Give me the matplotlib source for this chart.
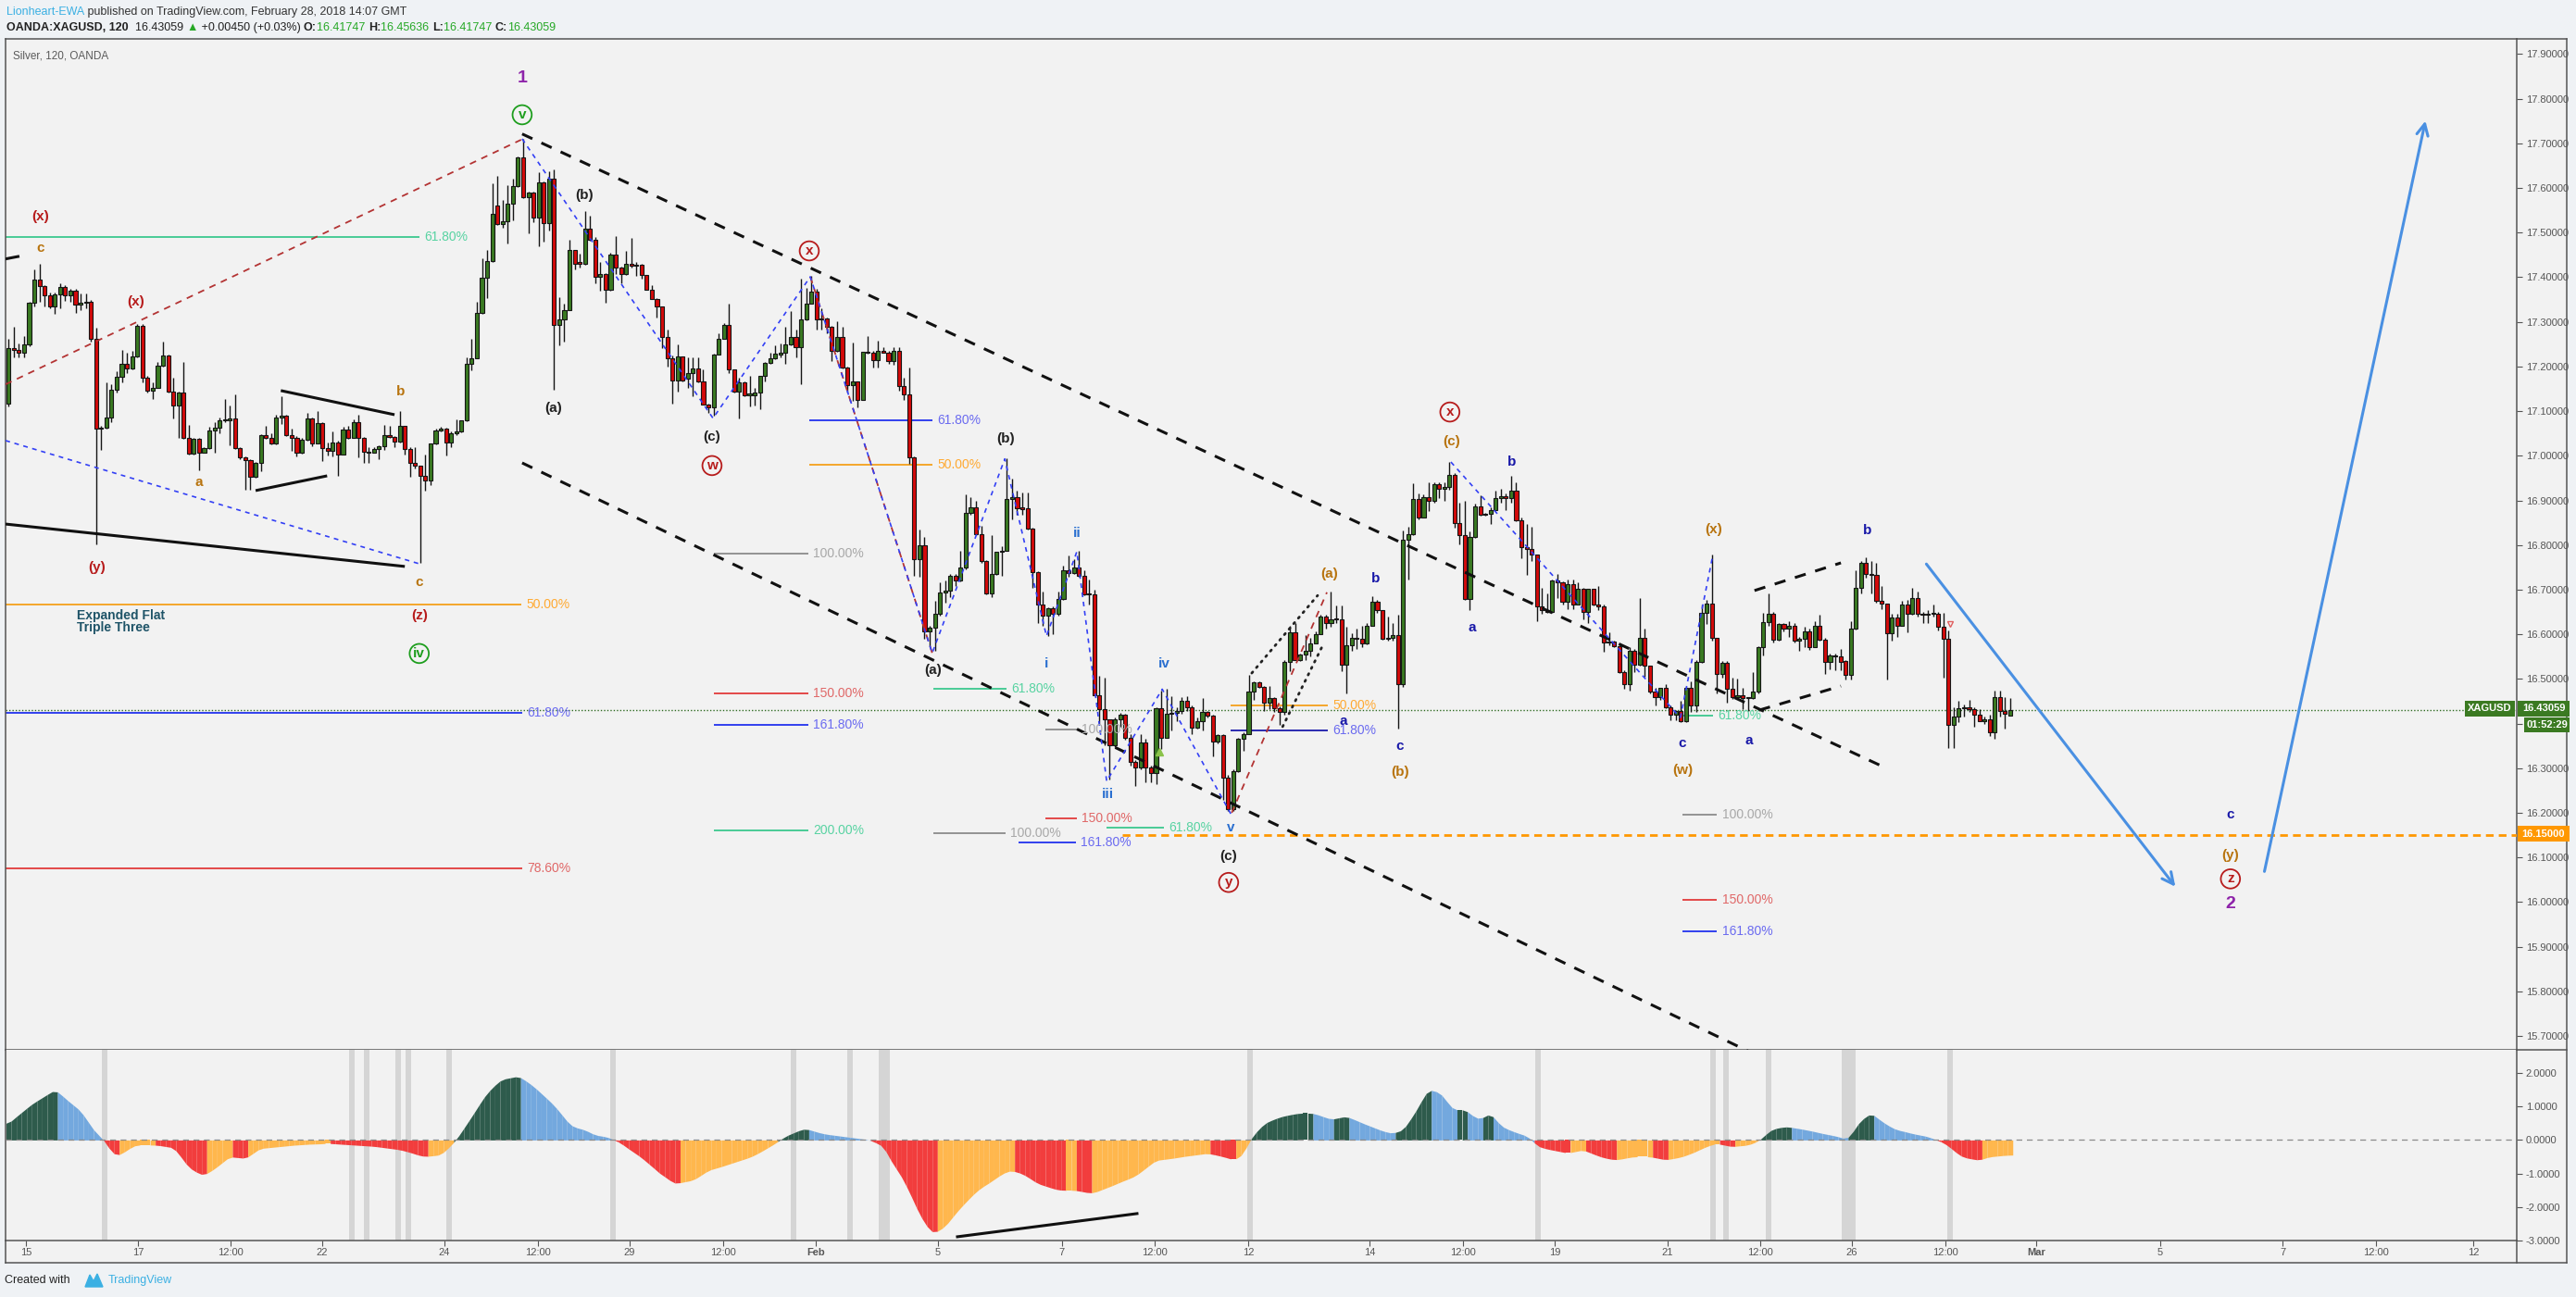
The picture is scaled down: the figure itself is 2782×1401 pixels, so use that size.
import numpy as np
import matplotlib
matplotlib.use("Agg")
import matplotlib.pyplot as plt
from matplotlib.patches import Rectangle, Polygon
from matplotlib.lines import Line2D

plt.rcParams['font.family'] = ['Liberation Sans', 'DejaVu Sans']

# ---------------- data (2h candles, OANDA XAGUSD) ----------------
opens = [17.117, 17.241, 17.237, 17.231, 17.249, 17.343, 17.395, 17.381, 17.360, 17.335,
         17.362, 17.378, 17.360, 17.369, 17.339, 17.343, 17.345, 17.262, 17.060, 17.063,
         17.085, 17.148, 17.177, 17.206, 17.196, 17.222, 17.291, 17.175, 17.146, 17.152,
         17.202, 17.225, 17.144, 17.113, 17.141, 17.041, 17.004, 17.037, 17.007, 17.018,
         17.057, 17.063, 17.080, 17.079, 17.083, 17.018, 16.996, 16.991, 16.952, 16.983,
         17.047, 17.041, 17.028, 17.085, 17.089, 17.046, 17.041, 17.006, 17.035, 17.084,
         17.028, 17.074, 17.018, 17.012, 17.030, 17.003, 17.058, 17.041, 17.075, 17.041,
         17.009, 17.007, 17.016, 17.022, 17.046, 17.042, 17.032, 17.067, 17.016, 16.985,
         16.977, 16.954, 16.944, 17.027, 17.056, 17.061, 17.030, 17.050, 17.054, 17.079,
         17.206, 17.219, 17.320, 17.399, 17.437, 17.561, 17.519, 17.525, 17.564, 17.604,
         17.669, 17.580, 17.590, 17.533, 17.613, 17.521, 17.621, 17.293, 17.305, 17.327,
         17.461, 17.434, 17.430, 17.509, 17.483, 17.400, 17.407, 17.372, 17.450, 17.422,
         17.407, 17.430, 17.425, 17.428, 17.405, 17.372, 17.352, 17.334, 17.267, 17.218,
         17.168, 17.222, 17.172, 17.186, 17.195, 17.167, 17.115, 17.108, 17.227, 17.263,
         17.294, 17.193, 17.144, 17.165, 17.136, 17.135, 17.141, 17.179, 17.208, 17.218,
         17.227, 17.231, 17.250, 17.267, 17.243, 17.305, 17.341, 17.367, 17.308, 17.308,
         17.289, 17.235, 17.267, 17.198, 17.158, 17.166, 17.126, 17.232, 17.230, 17.215,
         17.235, 17.231, 17.213, 17.235, 17.157, 17.138, 16.997, 16.769, 16.800, 16.607,
         16.614, 16.646, 16.694, 16.697, 16.731, 16.720, 16.749, 16.872, 16.884, 16.825,
         16.765, 16.691, 16.735, 16.784, 16.787, 16.903, 16.907, 16.884, 16.882, 16.837,
         16.740, 16.667, 16.642, 16.659, 16.646, 16.679, 16.744, 16.737, 16.749, 16.732,
         16.690, 16.690, 16.464, 16.432, 16.409, 16.351, 16.409, 16.419, 16.368, 16.314,
         16.302, 16.358, 16.301, 16.290, 16.435, 16.369, 16.421, 16.423, 16.429, 16.452,
         16.437, 16.390, 16.405, 16.427, 16.417, 16.360, 16.374, 16.279, 16.208, 16.294,
         16.365, 16.377, 16.471, 16.493, 16.483, 16.446, 16.458, 16.434, 16.427, 16.538,
         16.605, 16.543, 16.555, 16.562, 16.580, 16.601, 16.640, 16.625, 16.634, 16.633,
         16.531, 16.576, 16.593, 16.589, 16.580, 16.619, 16.673, 16.654, 16.590, 16.591,
         16.598, 16.489, 16.812, 16.825, 16.904, 16.862, 16.908, 16.898, 16.937, 16.925,
         16.930, 16.957, 16.850, 16.823, 16.680, 16.819, 16.887, 16.868, 16.870, 16.879,
         16.906, 16.908, 16.906, 16.921, 16.856, 16.795, 16.792, 16.778, 16.663, 16.654,
         16.650, 16.721, 16.717, 16.673, 16.713, 16.667, 16.702, 16.651, 16.701, 16.667,
         16.663, 16.582, 16.584, 16.574, 16.515, 16.489, 16.562, 16.531, 16.593, 16.529,
         16.471, 16.460, 16.480, 16.436, 16.419, 16.429, 16.405, 16.481, 16.440, 16.538,
         16.648, 16.669, 16.591, 16.512, 16.536, 16.477, 16.460, 16.464, 16.457, 16.457,
         16.471, 16.572, 16.627, 16.645, 16.588, 16.624, 16.612, 16.620, 16.586, 16.589,
         16.607, 16.572, 16.619, 16.588, 16.538, 16.553, 16.551, 16.540, 16.509, 16.612,
         16.705, 16.759, 16.735, 16.733, 16.676, 16.669, 16.603, 16.638, 16.619, 16.667,
         16.645, 16.681, 16.645, 16.643, 16.645, 16.646, 16.616, 16.589, 16.398, 16.415,
         16.434, 16.436, 16.433, 16.419, 16.406, 16.410, 16.381, 16.460, 16.429, 16.41747]

highs = [17.262, 17.289, 17.251, 17.269, 17.345, 17.417, 17.429, 17.383, 17.365, 17.365,
         17.386, 17.383, 17.374, 17.374, 17.364, 17.364, 17.350, 17.286, 17.068, 17.165,
         17.161, 17.189, 17.237, 17.231, 17.234, 17.296, 17.296, 17.179, 17.165, 17.210,
         17.256, 17.226, 17.175, 17.144, 17.211, 17.070, 17.041, 17.039, 17.020, 17.065,
         17.075, 17.085, 17.127, 17.113, 17.137, 17.019, 16.999, 16.993, 16.987, 17.048,
         17.066, 17.051, 17.092, 17.134, 17.092, 17.061, 17.044, 17.041, 17.097, 17.086,
         17.101, 17.075, 17.030, 17.054, 17.034, 17.065, 17.066, 17.082, 17.092, 17.042,
         17.020, 17.020, 17.023, 17.070, 17.068, 17.044, 17.101, 17.068, 17.020, 17.020,
         16.978, 17.003, 17.027, 17.061, 17.065, 17.063, 17.054, 17.082, 17.080, 17.220,
         17.262, 17.345, 17.443, 17.462, 17.611, 17.626, 17.573, 17.607, 17.621, 17.671,
         17.711, 17.592, 17.592, 17.636, 17.614, 17.638, 17.642, 17.355, 17.341, 17.484,
         17.462, 17.452, 17.548, 17.538, 17.490, 17.434, 17.410, 17.455, 17.493, 17.423,
         17.459, 17.488, 17.434, 17.429, 17.405, 17.383, 17.353, 17.335, 17.282, 17.224,
         17.250, 17.223, 17.220, 17.220, 17.220, 17.193, 17.117, 17.228, 17.275, 17.298,
         17.340, 17.194, 17.175, 17.166, 17.179, 17.151, 17.180, 17.210, 17.231, 17.248,
         17.251, 17.289, 17.324, 17.282, 17.396, 17.376, 17.402, 17.374, 17.331, 17.309,
         17.290, 17.302, 17.289, 17.199, 17.253, 17.167, 17.233, 17.269, 17.236, 17.257,
         17.244, 17.236, 17.244, 17.244, 17.175, 17.197, 16.998, 16.835, 16.818, 16.618,
         16.675, 16.716, 16.720, 16.736, 16.736, 16.786, 16.913, 16.908, 16.900, 16.843,
         16.766, 16.822, 16.785, 16.798, 16.994, 16.949, 16.921, 16.917, 16.917, 16.838,
         16.741, 16.695, 16.661, 16.663, 16.695, 16.754, 16.777, 16.769, 16.786, 16.743,
         16.722, 16.700, 16.507, 16.503, 16.410, 16.413, 16.423, 16.421, 16.376, 16.318,
         16.376, 16.366, 16.306, 16.437, 16.474, 16.478, 16.462, 16.437, 16.460, 16.462,
         16.441, 16.413, 16.458, 16.429, 16.419, 16.376, 16.376, 16.286, 16.298, 16.367,
         16.381, 16.509, 16.495, 16.495, 16.485, 16.484, 16.460, 16.438, 16.543, 16.619,
         16.626, 16.557, 16.598, 16.591, 16.607, 16.643, 16.643, 16.695, 16.664, 16.664,
         16.616, 16.602, 16.612, 16.619, 16.626, 16.685, 16.678, 16.655, 16.640, 16.626,
         16.643, 16.833, 16.840, 16.938, 16.915, 16.913, 16.940, 16.940, 16.940, 16.940,
         16.986, 16.961, 16.895, 16.899, 16.830, 16.892, 16.911, 16.872, 16.885, 16.922,
         16.926, 16.916, 16.954, 16.940, 16.861, 16.847, 16.840, 16.779, 16.705, 16.692,
         16.723, 16.736, 16.719, 16.723, 16.723, 16.716, 16.705, 16.702, 16.702, 16.709,
         16.667, 16.605, 16.585, 16.576, 16.519, 16.571, 16.567, 16.681, 16.612, 16.530,
         16.481, 16.481, 16.488, 16.440, 16.431, 16.450, 16.482, 16.495, 16.543, 16.667,
         16.678, 16.778, 16.592, 16.540, 16.540, 16.502, 16.500, 16.480, 16.460, 16.515,
         16.574, 16.648, 16.692, 16.650, 16.626, 16.626, 16.629, 16.626, 16.595, 16.616,
         16.612, 16.629, 16.643, 16.591, 16.557, 16.557, 16.567, 16.542, 16.629, 16.743,
         16.764, 16.772, 16.764, 16.759, 16.709, 16.669, 16.645, 16.645, 16.674, 16.678,
         16.705, 16.695, 16.650, 16.654, 16.667, 16.650, 16.648, 16.609, 16.436, 16.450,
         16.443, 16.453, 16.436, 16.433, 16.415, 16.419, 16.474, 16.474, 16.460, 16.45636]

lows = [17.110, 17.220, 17.220, 17.220, 17.245, 17.334, 17.345, 17.334, 17.331, 17.317,
        17.331, 17.348, 17.345, 17.320, 17.327, 17.331, 17.255, 16.802, 17.013, 17.061,
        17.075, 17.141, 17.165, 17.186, 17.194, 17.220, 17.165, 17.141, 17.127, 17.151,
        17.199, 17.142, 17.083, 17.039, 17.038, 17.002, 17.002, 16.968, 17.006, 17.016,
        17.006, 17.051, 17.075, 17.023, 17.016, 16.992, 16.923, 16.923, 16.951, 16.966,
        17.037, 17.025, 17.026, 17.072, 17.044, 17.012, 16.999, 17.005, 17.034, 17.021,
        17.027, 16.989, 17.000, 16.998, 16.954, 17.002, 17.037, 17.040, 16.996, 16.985,
        16.985, 17.006, 16.992, 17.013, 17.041, 17.020, 17.030, 17.003, 16.952, 16.971,
        16.759, 16.922, 16.935, 17.025, 17.054, 17.000, 17.020, 17.047, 17.053, 17.078,
        17.191, 17.218, 17.318, 17.353, 17.434, 17.517, 17.510, 17.476, 17.528, 17.602,
        17.578, 17.498, 17.524, 17.469, 17.479, 17.504, 17.148, 17.248, 17.256, 17.326,
        17.417, 17.421, 17.428, 17.482, 17.386, 17.369, 17.343, 17.369, 17.407, 17.386,
        17.406, 17.422, 17.403, 17.396, 17.371, 17.351, 17.310, 17.241, 17.199, 17.117,
        17.144, 17.166, 17.152, 17.134, 17.165, 17.114, 17.097, 17.090, 17.226, 17.262,
        17.186, 17.142, 17.083, 17.134, 17.110, 17.113, 17.104, 17.166, 17.207, 17.217,
        17.220, 17.206, 17.248, 17.220, 17.161, 17.303, 17.340, 17.282, 17.282, 17.275,
        17.213, 17.232, 17.195, 17.142, 17.122, 17.109, 17.125, 17.228, 17.197, 17.197,
        17.230, 17.207, 17.203, 17.146, 17.126, 16.982, 16.732, 16.728, 16.589, 16.573,
        16.564, 16.642, 16.671, 16.683, 16.708, 16.719, 16.745, 16.868, 16.822, 16.761,
        16.690, 16.683, 16.734, 16.732, 16.786, 16.858, 16.868, 16.868, 16.835, 16.704,
        16.626, 16.618, 16.597, 16.601, 16.642, 16.678, 16.728, 16.735, 16.728, 16.687,
        16.667, 16.463, 16.400, 16.351, 16.274, 16.347, 16.392, 16.364, 16.306, 16.261,
        16.298, 16.269, 16.269, 16.265, 16.343, 16.368, 16.384, 16.405, 16.421, 16.429,
        16.376, 16.388, 16.384, 16.413, 16.327, 16.356, 16.228, 16.205, 16.204, 16.292,
        16.339, 16.376, 16.453, 16.481, 16.429, 16.433, 16.426, 16.397, 16.419, 16.518,
        16.542, 16.540, 16.543, 16.550, 16.579, 16.600, 16.612, 16.616, 16.626, 16.517,
        16.467, 16.564, 16.567, 16.571, 16.578, 16.618, 16.647, 16.588, 16.586, 16.585,
        16.388, 16.482, 16.723, 16.823, 16.857, 16.861, 16.876, 16.895, 16.906, 16.899,
        16.923, 16.839, 16.802, 16.678, 16.655, 16.816, 16.866, 16.866, 16.848, 16.878,
        16.895, 16.878, 16.895, 16.854, 16.770, 16.733, 16.764, 16.629, 16.645, 16.648,
        16.649, 16.681, 16.666, 16.657, 16.657, 16.666, 16.634, 16.626, 16.665, 16.654,
        16.560, 16.576, 16.571, 16.513, 16.477, 16.474, 16.515, 16.530, 16.505, 16.467,
        16.440, 16.453, 16.435, 16.408, 16.408, 16.404, 16.404, 16.426, 16.426, 16.537,
        16.623, 16.585, 16.467, 16.502, 16.446, 16.455, 16.457, 16.433, 16.429, 16.455,
        16.467, 16.553, 16.620, 16.581, 16.585, 16.607, 16.595, 16.581, 16.564, 16.571,
        16.565, 16.571, 16.586, 16.512, 16.522, 16.519, 16.519, 16.498, 16.498, 16.611,
        16.692, 16.726, 16.692, 16.671, 16.656, 16.498, 16.586, 16.595, 16.618, 16.604,
        16.643, 16.640, 16.625, 16.626, 16.640, 16.609, 16.502, 16.346, 16.346, 16.404,
        16.415, 16.426, 16.393, 16.405, 16.399, 16.372, 16.365, 16.415, 16.388, 16.41747]

closes = [17.241, 17.237, 17.231, 17.249, 17.343, 17.395, 17.381, 17.360, 17.335, 17.362,
          17.378, 17.360, 17.369, 17.339, 17.343, 17.345, 17.262, 17.060, 17.063, 17.085,
          17.148, 17.177, 17.206, 17.196, 17.222, 17.291, 17.175, 17.146, 17.152, 17.202,
          17.225, 17.144, 17.113, 17.141, 17.041, 17.004, 17.037, 17.007, 17.018, 17.057,
          17.063, 17.080, 17.082, 17.083, 17.018, 16.996, 16.991, 16.952, 16.983, 17.047,
          17.041, 17.028, 17.085, 17.089, 17.046, 17.041, 17.006, 17.035, 17.084, 17.028,
          17.074, 17.018, 17.012, 17.030, 17.003, 17.058, 17.041, 17.075, 17.041, 17.009,
          17.007, 17.016, 17.022, 17.046, 17.042, 17.032, 17.067, 17.016, 16.985, 16.977,
          16.954, 16.944, 17.027, 17.056, 17.061, 17.030, 17.050, 17.054, 17.079, 17.206,
          17.219, 17.320, 17.399, 17.437, 17.542, 17.519, 17.525, 17.564, 17.604, 17.669,
          17.580, 17.590, 17.533, 17.613, 17.521, 17.621, 17.293, 17.305, 17.327, 17.461,
          17.431, 17.430, 17.509, 17.483, 17.400, 17.407, 17.372, 17.450, 17.422, 17.407,
          17.430, 17.425, 17.428, 17.405, 17.372, 17.352, 17.334, 17.267, 17.218, 17.168,
          17.222, 17.168, 17.186, 17.195, 17.167, 17.115, 17.108, 17.227, 17.263, 17.294,
          17.193, 17.144, 17.165, 17.136, 17.139, 17.141, 17.179, 17.208, 17.218, 17.229,
          17.231, 17.250, 17.267, 17.243, 17.305, 17.341, 17.367, 17.305, 17.305, 17.289,
          17.234, 17.267, 17.198, 17.158, 17.166, 17.126, 17.232, 17.230, 17.215, 17.235,
          17.231, 17.213, 17.235, 17.157, 17.138, 16.997, 16.769, 16.800, 16.607, 16.614,
          16.646, 16.694, 16.697, 16.731, 16.720, 16.749, 16.872, 16.884, 16.825, 16.765,
          16.691, 16.735, 16.784, 16.787, 16.903, 16.907, 16.882, 16.881, 16.837, 16.740,
          16.667, 16.642, 16.659, 16.646, 16.679, 16.744, 16.737, 16.749, 16.732, 16.690,
          16.689, 16.464, 16.432, 16.409, 16.351, 16.409, 16.419, 16.368, 16.314, 16.302,
          16.358, 16.301, 16.290, 16.435, 16.369, 16.421, 16.423, 16.429, 16.452, 16.437,
          16.390, 16.405, 16.427, 16.417, 16.360, 16.374, 16.279, 16.208, 16.294, 16.365,
          16.377, 16.471, 16.493, 16.483, 16.446, 16.458, 16.434, 16.427, 16.538, 16.605,
          16.543, 16.555, 16.562, 16.580, 16.601, 16.640, 16.625, 16.634, 16.633, 16.531,
          16.576, 16.593, 16.589, 16.580, 16.619, 16.673, 16.654, 16.590, 16.591, 16.598,
          16.489, 16.812, 16.825, 16.904, 16.862, 16.908, 16.898, 16.937, 16.925, 16.930,
          16.957, 16.850, 16.823, 16.680, 16.819, 16.887, 16.868, 16.870, 16.879, 16.906,
          16.908, 16.906, 16.921, 16.856, 16.795, 16.792, 16.778, 16.663, 16.654, 16.650,
          16.721, 16.717, 16.673, 16.713, 16.667, 16.702, 16.651, 16.701, 16.667, 16.663,
          16.582, 16.584, 16.574, 16.515, 16.489, 16.562, 16.531, 16.593, 16.529, 16.471,
          16.460, 16.480, 16.436, 16.419, 16.429, 16.405, 16.481, 16.440, 16.538, 16.648,
          16.669, 16.591, 16.512, 16.536, 16.477, 16.460, 16.464, 16.457, 16.458, 16.471,
          16.572, 16.627, 16.645, 16.588, 16.624, 16.612, 16.620, 16.586, 16.589, 16.607,
          16.572, 16.619, 16.588, 16.538, 16.553, 16.550, 16.538, 16.509, 16.612, 16.705,
          16.759, 16.735, 16.733, 16.676, 16.669, 16.603, 16.638, 16.619, 16.667, 16.645,
          16.681, 16.645, 16.643, 16.645, 16.646, 16.616, 16.589, 16.398, 16.415, 16.434,
          16.436, 16.433, 16.419, 16.406, 16.410, 16.381, 16.460, 16.429, 16.422, 16.43059]

# oscillator value for every bar
osc = [0.50, 0.63, 0.76, 0.88, 1.01, 1.12, 1.21, 1.31, 1.40, 1.49,
       1.38, 1.24, 1.11, 0.99, 0.86, 0.64, 0.42, 0.20, 0.09, -0.13,
       -0.35, -0.47, -0.40, -0.31, -0.20, -0.15, -0.15, -0.15, -0.15, -0.16,
       -0.18, -0.21, -0.23, -0.41, -0.61, -0.82, -0.91, -1.01, -1.04, -0.96,
       -0.86, -0.74, -0.62, -0.50, -0.52, -0.53, -0.55, -0.46, -0.34, -0.25,
       -0.24, -0.22, -0.21, -0.19, -0.18, -0.16, -0.15, -0.14, -0.13, -0.12,
       -0.12, -0.11, -0.10, -0.11, -0.12, -0.13, -0.14, -0.15, -0.16, -0.17,
       -0.18, -0.19, -0.21, -0.23, -0.25, -0.27, -0.29, -0.33, -0.37, -0.42,
       -0.47, -0.49, -0.48, -0.46, -0.44, -0.30, -0.16, 0.02, 0.24, 0.47,
       0.70, 0.94, 1.18, 1.40, 1.55, 1.71, 1.81, 1.84, 1.87, 1.90,
       1.82, 1.71, 1.60, 1.46, 1.32, 1.18, 1.03, 0.85, 0.66, 0.47,
       0.38, 0.34, 0.30, 0.22, 0.15, 0.12, 0.10, 0.05, -0.02, -0.10,
       -0.21, -0.32, -0.42, -0.53, -0.66, -0.79, -0.92, -1.06, -1.13, -1.28,
       -1.29, -1.26, -1.23, -1.20, -1.11, -1.01, -0.91, -0.86, -0.82, -0.77,
       -0.72, -0.67, -0.62, -0.57, -0.52, -0.45, -0.37, -0.28, -0.19, -0.10,
       0.01, 0.11, 0.18, 0.24, 0.31, 0.33, 0.29, 0.24, 0.20, 0.17,
       0.15, 0.13, 0.11, 0.09, 0.07, 0.05, 0.03, 0.01, -0.04, -0.12,
       -0.20, -0.49, -0.75, -0.97, -1.23, -1.55, -1.87, -2.22, -2.46, -2.70,
       -2.77, -2.68, -2.58, -2.39, -2.20, -2.02, -1.86, -1.70, -1.55, -1.43,
       -1.33, -1.24, -1.12, -1.03, -0.94, -0.92, -0.96, -1.01, -1.10, -1.20,
       -1.30, -1.35, -1.40, -1.45, -1.49, -1.50, -1.50, -1.50, -1.52, -1.55,
       -1.58, -1.57, -1.51, -1.45, -1.39, -1.33, -1.26, -1.20, -1.14, -1.07,
       -0.96, -0.84, -0.72, -0.61, -0.59, -0.57, -0.55, -0.53, -0.50, -0.48,
       -0.46, -0.44, -0.42, -0.40, -0.43, -0.46, -0.50, -0.54, -0.59, -0.54,
       -0.39, -0.08, 0.16, 0.32, 0.48, 0.56, 0.62, 0.68, 0.72, 0.75,
       0.78, 0.80, 0.80, 0.80, 0.78, 0.72, 0.67, 0.62, 0.64, 0.68,
       0.70, 0.64, 0.58, 0.51, 0.45, 0.39, 0.33, 0.27, 0.23, 0.20,
       0.25, 0.30, 0.52, 0.74, 1.00, 1.28, 1.50, 1.46, 1.42, 1.26,
       1.04, 0.90, 0.90, 0.90, 0.79, 0.67, 0.63, 0.71, 0.78, 0.61,
       0.43, 0.34, 0.28, 0.22, 0.17, 0.12, 0.00, -0.17, -0.23, -0.27,
       -0.30, -0.33, -0.36, -0.39, -0.36, -0.33, -0.30, -0.36, -0.42, -0.48,
       -0.53, -0.56, -0.59, -0.58, -0.55, -0.52, -0.50, -0.50, -0.50, -0.50,
       -0.53, -0.56, -0.59, -0.57, -0.54, -0.51, -0.46, -0.40, -0.34, -0.26,
       -0.20, -0.14, -0.11, -0.14, -0.17, -0.20, -0.18, -0.17, -0.15, -0.10,
       -0.03, 0.09, 0.24, 0.33, 0.36, 0.39, 0.39, 0.36, 0.34, 0.31,
       0.28, 0.25, 0.21, 0.18, 0.15, 0.12, 0.08, 0.03, 0.13, 0.39,
       0.58, 0.70, 0.79, 0.68, 0.56, 0.46, 0.37, 0.30, 0.27, 0.23,
       0.19, 0.16, 0.13, 0.10, 0.04, -0.02, -0.08, -0.19, -0.31, -0.44,
       -0.52, -0.55, -0.58, -0.60, -0.55, -0.50, -0.49, -0.47, -0.46, -0.45]
osc_gray_bars = [18.7, 66.7, 69.6, 75.7, 77.7, 85.6, 117.5, 152.5, 163.5, 169.6, 170.7, 241.3,
                 297.2, 331.2, 333.8, 342.0, 356.8, 357.6, 358.4, 377.3]

time_tick_pos = [3.37, 25.1, 43.1, 60.9, 84.7, 102.9, 120.7, 138.9, 156.9, 180.6, 204.7, 222.7,
                 240.9, 264.5, 282.7, 300.5, 322.4, 340.4, 358.2, 376.4, 394.0, 418.1, 442.0,
                 460.1, 479.0]
time_tick_lbl = ['15', '17', '12:00', '22', '24', '12:00', '29', '12:00', 'Feb', '5', '7', '12:00',
                 '12', '14', '12:00', '19', '21', '12:00', '26', '12:00', 'Mar', '5', '7', '12:00', '12']
price_ticks = [15.7, 15.8, 15.9, 16.0, 16.1, 16.2, 16.3, 16.4, 16.5, 16.6, 16.7, 16.8, 16.9,
               17.0, 17.1, 17.2, 17.3, 17.4, 17.5, 17.6, 17.7, 17.8, 17.9]
osc_ticks = [2, 1, 0, -1, -2, -3]
last_price = 16.43059
target_price = 16.15

# ---------------- layout ----------------
W, H = 2782, 1401
fig = plt.figure(figsize=(W / 100, H / 100), dpi=100)
fig.patch.set_facecolor('#EFF2F5')

def fx(x):
    return x / W

def fy(y):
    return 1 - y / H

LEFT, RIGHT, TOP, SEP, OBOT, FBOT, FRIGHT = 6, 2718, 42, 1134, 1340, 1364, 2772
ax = fig.add_axes([fx(LEFT), fy(SEP), (RIGHT - LEFT) / W, (SEP - TOP) / H])
axo = fig.add_axes([fx(LEFT), fy(OBOT), (RIGHT - LEFT) / W, (OBOT - SEP) / H])
BG = '#F2F2F2'
for a in (ax, axo):
    a.set_facecolor(BG)
    for s in a.spines.values():
        s.set_color('#555555')
        s.set_linewidth(1.1)
axo.spines['top'].set_visible(False)

n = min(len(opens), len(highs), len(lows), len(closes))
O = np.array(opens[:n]); Hh = np.array(highs[:n]); Ll = np.array(lows[:n]); C = np.array(closes[:n])
xb = np.arange(n)
XMIN, XMAX = -0.594, 487.44
ax.set_xlim(XMIN, XMAX)
axo.set_xlim(XMIN, XMAX)
ax.set_ylim(15.669, 17.934)
axo.set_ylim(-3.0, 2.69)

# ---------------- candles ----------------
GREEN, RED = '#3A7A22', '#D40A0A'
up = C >= O
ax.vlines(xb, Ll, Hh, color='#151515', lw=1.0, zorder=3)
body = np.maximum(np.abs(C - O), 0.0025)
bot = np.minimum(O, C)
ax.bar(xb, body, bottom=bot, width=0.74, color=np.where(up, GREEN, RED),
       edgecolor='#151515', linewidth=0.8, zorder=4)

# ---------------- fib levels ----------------
g_l, g_t = '#3CC98F', '#58D3A2'
o_l, o_t = '#F5A11C', '#FFAA33'
b_l, b_t = '#2233EE', '#6B6BF0'
n_l, n_t = '#1A1AAA', '#6B6BF0'
r_l, r_t = '#E23B3B', '#E06868'
k_l, k_t = '#8C8C8C', '#A8A8A8'
fibs = [
    (-0.6, 79.8, 17.490, '61.80%', g_l, g_t),
    (-0.6, 99.6, 16.667, '50.00%', o_l, o_t),
    (-0.6, 99.8, 16.425, '61.80%', b_l, b_t),
    (-0.6, 99.8, 16.076, '78.60%', r_l, r_t),
    (137.1, 155.4, 16.781, '100.00%', k_l, k_t),
    (155.6, 179.5, 17.079, '61.80%', b_l, b_t),
    (155.6, 179.5, 16.980, '50.00%', o_l, o_t),
    (137.1, 155.4, 16.468, '150.00%', r_l, r_t),
    (137.1, 155.4, 16.397, '161.80%', b_l, b_t),
    (137.1, 155.4, 16.160, '200.00%', g_l, g_t),
    (179.7, 193.9, 16.477, '61.80%', g_l, g_t),
    (179.7, 193.7, 16.154, '100.00%', k_l, k_t),
    (201.5, 207.6, 16.386, '100.00%', k_l, k_t),
    (201.5, 207.6, 16.187, '150.00%', r_l, r_t),
    (196.3, 207.4, 16.133, '161.80%', b_l, b_t),
    (213.4, 224.5, 16.167, '61.80%', g_l, g_t),
    (237.5, 256.4, 16.441, '50.00%', o_l, o_t),
    (237.5, 256.4, 16.384, '61.80%', n_l, n_t),
    (324.9, 331.2, 16.418, '61.80%', g_l, g_t),
    (325.3, 332.0, 16.196, '100.00%', k_l, k_t),
    (325.3, 332.0, 16.005, '150.00%', r_l, r_t),
    (325.3, 332.0, 15.934, '161.80%', b_l, b_t),
]
for x0, x1, p, lab, lc, tc in fibs:
    ax.plot([x0, x1], [p, p], color=lc, lw=1.3, zorder=2, solid_capstyle='butt')
    ax.text(x1 + 1.0, p, lab, color=tc, fontsize=10, va='center', ha='left', zorder=6)

# current price and target lines
ax.axhline(last_price, color='#2F6B22', lw=1.0, ls=(0, (1, 1.5)), zorder=2)
ax.plot([216.4, XMAX], [target_price, target_price], color='#FF9800', lw=2.0,
        ls=(0, (3, 2)), zorder=5)

# ---------------- trend / channel lines ----------------
def seg(p0, p1, **kw):
    ax.plot([p0[0], p1[0]], [p0[1], p1[1]], **kw)

blk_dash = dict(color='#111111', lw=2.2, ls=(0, (4, 3.5)), zorder=5)
seg((99.8, 17.721), (363.8, 16.306), **blk_dash)
seg((99.8, 16.984), (350.0, 15.6), **blk_dash)
seg((339.3, 16.698), (356.1, 16.760), **blk_dash)
seg((340.2, 16.430), (356.1, 16.484), **blk_dash)
blk_solid = dict(color='#111111', lw=2.2, zorder=5, solid_capstyle='butt')
seg((-0.6, 16.847), (77.0, 16.752), **blk_solid)
seg((-0.6, 17.441), (2.1, 17.447), **blk_solid)
seg((52.9, 17.146), (75.0, 17.092), **blk_solid)
seg((48.0, 16.922), (61.9, 16.955), **blk_solid)

red_dash = dict(color='#B33333', lw=1.3, ls=(0, (4, 3.5)), zorder=5)
seg((-0.6, 17.160), (99.6, 17.708), **red_dash)
seg((155.8, 17.401), (179.5, 16.558), **red_dash)
seg((237.7, 16.200), (256.2, 16.694), **red_dash)

blue_dash = dict(color='#3340F5', lw=1.2, ls=(0, (3, 3)), zorder=5)
seg((-0.6, 17.034), (79.8, 16.758), **blue_dash)
zig = [(99.8, 17.71), (136.9, 17.084), (155.8, 17.401), (179.5, 16.558), (193.6, 16.993),
       (201.7, 16.596), (207.6, 16.785), (213.4, 16.271), (224.2, 16.477), (237.7, 16.194)]
ax.plot([z[0] for z in zig], [z[1] for z in zig], **blue_dash)
seg((280.3, 16.986), (324.9, 16.413), **blue_dash)
seg((324.9, 16.413), (331.2, 16.777), **blue_dash)

dot = dict(color='#222222', lw=2.0, ls=(0, (0.6, 2.2)), zorder=5, dash_capstyle='round')
seg((241.6, 16.513), (254.4, 16.687), **dot)
seg((247.6, 16.393), (255.3, 16.573), **dot)

arrow_kw = dict(arrowstyle='->', color='#4A90E2', lw=2.2, mutation_scale=22)
ax.annotate('', xy=(421.4, 16.030), xytext=(372.4, 16.762), arrowprops=arrow_kw, zorder=6)
ax.annotate('', xy=(469.8, 17.756), xytext=(438.3, 16.063), arrowprops=arrow_kw, zorder=6)

ax.plot([223.6], [16.337], marker='^', color='#8BC34A', ms=6, zorder=6, ls='none')
ax.plot([377.3], [16.623], marker='v', mfc='none', mec='#E06060', ms=5, zorder=6, ls='none')

# ---------------- wave labels ----------------
C_RED = '#B71C1C'
C_ORG = '#B8740F'
C_BLK = '#222222'
C_LBL = '#2A6FD0'
C_NAV = '#1818A8'
C_GRN = '#1E9E1E'
C_PUR = '#8E24AA'

def lab(x, y, s, col, size=11, circle=False):
    kw = dict(color=col, fontsize=size, fontweight='bold', ha='center', va='center', zorder=7)
    if circle:
        kw['bbox'] = dict(boxstyle='circle,pad=0.22', fc='none', ec=col, lw=1.3)
    ax.text(x, y, s, **kw)

labels = [
    (99.8, 17.845, '1', C_PUR, 14, False),
    (99.8, 17.764, 'v', C_GRN, 11, True),
    (6.1, 17.536, '(x)', C_RED, 11, False),
    (6.2, 17.465, 'c', C_ORG, 11, False),
    (24.8, 17.345, '(x)', C_RED, 11, False),
    (17.2, 16.749, '(y)', C_RED, 11, False),
    (37.0, 16.940, 'a', C_ORG, 11, False),
    (76.1, 17.144, 'b', C_ORG, 11, False),
    (79.8, 16.716, 'c', C_ORG, 11, False),
    (79.8, 16.641, '(z)', C_RED, 11, False),
    (79.8, 16.557, 'iv', C_GRN, 11, True),
    (105.8, 17.107, '(a)', C_BLK, 11, False),
    (111.9, 17.583, '(b)', C_BLK, 11, False),
    (136.7, 17.042, '(c)', C_BLK, 11, False),
    (136.7, 16.978, 'w', C_RED, 11, True),
    (155.6, 17.459, 'x', C_RED, 11, True),
    (193.8, 17.038, '(b)', C_BLK, 11, False),
    (179.7, 16.520, '(a)', C_BLK, 11, False),
    (201.7, 16.534, 'i', C_LBL, 11, False),
    (207.6, 16.827, 'ii', C_LBL, 11, False),
    (213.6, 16.241, 'iii', C_LBL, 11, False),
    (224.5, 16.534, 'iv', C_LBL, 11, False),
    (237.5, 16.167, 'v', C_LBL, 11, False),
    (237.1, 16.102, '(c)', C_BLK, 11, False),
    (237.1, 16.044, 'y', C_RED, 11, True),
    (256.6, 16.735, '(a)', C_ORG, 11, False),
    (265.6, 16.725, 'b', C_NAV, 11, False),
    (259.4, 16.405, 'a', C_NAV, 11, False),
    (270.4, 16.349, 'c', C_NAV, 11, False),
    (270.4, 16.291, '(b)', C_ORG, 11, False),
    (280.1, 17.098, 'x', C_RED, 11, True),
    (280.5, 17.032, '(c)', C_ORG, 11, False),
    (292.2, 16.986, 'b', C_NAV, 11, False),
    (284.4, 16.615, 'a', C_NAV, 11, False),
    (331.4, 16.835, '(x)', C_ORG, 11, False),
    (325.3, 16.355, 'c', C_NAV, 11, False),
    (325.3, 16.295, '(w)', C_ORG, 11, False),
    (338.3, 16.362, 'a', C_NAV, 11, False),
    (361.3, 16.833, 'b', C_NAV, 11, False),
    (431.8, 16.196, 'c', C_NAV, 11, False),
    (431.8, 16.104, '(y)', C_ORG, 11, False),
    (431.8, 16.052, 'z', C_RED, 11, True),
    (431.8, 15.996, '2', C_PUR, 14, False),
]
for x, y, s, col, size, circ in labels:
    lab(x, y, s, col, size, circ)

ax.text(13.2, 16.641, 'Expanded Flat', color='#1F5468', fontsize=10, fontweight='bold',
        ha='left', va='center', zorder=7)
ax.text(13.2, 16.615, 'Triple Three', color='#1F5468', fontsize=10, fontweight='bold',
        ha='left', va='center', zorder=7)

ax.text(0.003, 0.983, 'Silver, 120, OANDA', transform=ax.transAxes, color='#5A5A5A',
        fontsize=8.5, ha='left', va='center')

# ---------------- axes ticks ----------------
ax.set_xticks([])
ax.yaxis.tick_right()
ax.set_yticks(price_ticks)
ax.set_yticklabels(['%.5f' % p for p in price_ticks])
ax.tick_params(axis='y', direction='out', length=4, color='#555555', labelcolor='#555555',
               labelsize=8, pad=3)
axo.yaxis.tick_right()
axo.set_yticks(osc_ticks)
axo.set_yticklabels(['%.4f' % v for v in osc_ticks])
axo.tick_params(axis='y', direction='out', length=4, color='#555555', labelcolor='#555555',
                labelsize=8, pad=3)
axo.set_xticks(time_tick_pos)
axo.set_xticklabels(time_tick_lbl)
axo.tick_params(axis='x', direction='out', length=4, color='#555555', labelcolor='#555555',
                labelsize=8, pad=2)
for t in axo.get_xticklabels():
    if t.get_text() in ('Feb', 'Mar'):
        t.set_fontweight('bold')

# ---------------- oscillator ----------------
for gb in osc_gray_bars:
    axo.axvspan(gb - 0.55, gb + 0.55, color='#D5D5D5', lw=0, zorder=1)
m = min(n, len(osc))
ov = np.array(osc[:m])
prev = np.concatenate([[ov[0]], ov[:-1]])
cols = np.where(ov >= 0, np.where(ov >= prev, '#2E5B4C', '#73A8DE'),
                np.where(ov < prev, '#F23D3D', '#FFB74D'))
for i in range(m):
    xa = [i - 0.5, i + 0.5]
    va = [0.5 * (ov[max(i - 1, 0)] + ov[i]), 0.5 * (ov[i] + ov[min(i + 1, m - 1)])]
    axo.fill_between(xa, va, 0, color=cols[i], lw=0, zorder=2, antialiased=False)
axo.axhline(0, color='#8A8A8A', lw=0.9, ls=(0, (5, 4)), zorder=3)
axo.plot([184.4, 219.3], [-2.887, -2.196], color='#111111', lw=2.2, zorder=4)

# ---------------- frame lines in figure ----------------
def fline(x0, y0, x1, y1, col='#555555', lw=1.1):
    fig.add_artist(Line2D([fx(x0), fx(x1)], [fy(y0), fy(y1)], color=col, lw=lw))

fig.add_artist(Rectangle((fx(RIGHT), fy(FBOT)), (FRIGHT - RIGHT) / W, (FBOT - TOP) / H,
                         transform=fig.transFigure, fc=BG, ec='none', zorder=-1))
fig.add_artist(Rectangle((fx(LEFT), fy(FBOT)), (RIGHT - LEFT) / W, (FBOT - OBOT) / H,
                         transform=fig.transFigure, fc=BG, ec='none', zorder=-1))
fline(RIGHT, TOP, FRIGHT, TOP)
fline(FRIGHT, TOP, FRIGHT, FBOT)
fline(LEFT, FBOT, FRIGHT, FBOT)
fline(LEFT, OBOT, LEFT, FBOT)
fline(RIGHT, SEP, FRIGHT, SEP)
fline(RIGHT, OBOT, RIGHT, FBOT)

# ---------------- right-side price labels ----------------
def box(x0, y0, x1, y1, col, txt, tcol='white', size=8, weight='bold'):
    fig.add_artist(Rectangle((fx(x0), fy(y1)), (x1 - x0) / W, (y1 - y0) / H,
                             transform=fig.transFigure, fc=col, ec='none', zorder=10))
    fig.text(fx((x0 + x1) / 2), fy((y0 + y1) / 2), txt, color=tcol, fontsize=size,
             fontweight=weight, ha='center', va='center', zorder=11)

box(2662, 757, 2716, 774, '#3B7A22', 'XAGUSD')
box(2719, 757, 2775, 774, '#3B7A22', '%.5f' % last_price)
box(2726, 775, 2775, 791, '#3B7A22', '01:52:29')
box(2719, 892, 2775, 909, '#FF9800', '%.5f' % target_price)

# ---------------- header / footer ----------------
renderer = fig.canvas.get_renderer()

def seq_text(x, y, parts, size=9):
    for s, col, wt in parts:
        t = fig.text(fx(x), fy(y), s, color=col, fontsize=size, fontweight=wt,
                     ha='left', va='center')
        bb = t.get_window_extent(renderer=renderer)
        x += bb.width

seq_text(7, 13, [('Lionheart-EWA', '#3BB0E3', 'normal'),
                 (' published on TradingView.com, February 28, 2018 14:07 GMT', '#333333', 'normal')])
GR = '#26A826'
seq_text(7, 30, [('OANDA:XAGUSD, 120', '#222222', 'bold'), ('  16.43059 ', '#222222', 'normal'),
                 ('\u25B2', GR, 'normal'), (' +0.00450 (+0.03%) ', '#222222', 'normal'),
                 ('O:', '#222222', 'bold'), ('16.41747 ', GR, 'normal'),
                 ('H:', '#222222', 'bold'), ('16.45636 ', GR, 'normal'),
                 ('L:', '#222222', 'bold'), ('16.41747 ', GR, 'normal'),
                 ('C:', '#222222', 'bold'), ('16.43059', GR, 'normal')])
seq_text(5, 1383, [('Created with ', '#222222', 'normal')])
fig.add_artist(Polygon([[fx(92), fy(1390)], [fx(97), fy(1377)], [fx(101), fy(1384)],
                        [fx(105), fy(1376)], [fx(111), fy(1390)]], closed=True,
                       transform=fig.transFigure, fc='#3BB0E3', ec='#3BB0E3'))
fig.text(fx(117), fy(1383), 'TradingView', color='#3BB0E3', fontsize=9, ha='left', va='center')

fig.savefig('out.png', dpi=100, facecolor=fig.get_facecolor())
